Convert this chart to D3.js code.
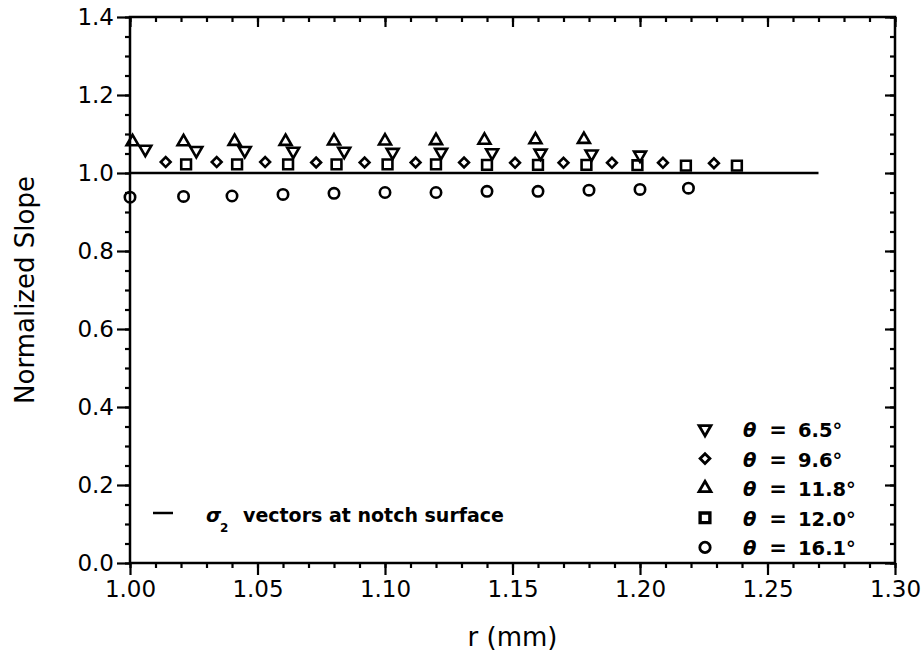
<!DOCTYPE html>
<html>
<head>
<meta charset="utf-8">
<script src="https://cdn.jsdelivr.net/npm/d3@7"></script>
<style>
  body { margin: 0; background: #fff; }
  .tick text { font-family: "DejaVu Sans", sans-serif; }
</style>
</head>
<body>
<div id="chart"></div>
<script>
// values
var r65 = [1.006, 1.026, 1.045, 1.064, 1.084, 1.103, 1.122, 1.142, 1.161, 1.181, 1.200];
var s65 = [1.061, 1.058, 1.058, 1.056, 1.056, 1.053, 1.053, 1.052, 1.051, 1.049, 1.046];

var r96 = [1.014, 1.034, 1.053, 1.073, 1.092, 1.112, 1.131, 1.151, 1.170, 1.189, 1.209, 1.229];
var s96 = [1.028, 1.028, 1.028, 1.027, 1.027, 1.027, 1.027, 1.026, 1.026, 1.026, 1.026, 1.025];

var r118 = [1.001, 1.021, 1.041, 1.061, 1.080, 1.100, 1.120, 1.139, 1.159, 1.178];
var s118 = [1.080, 1.080, 1.081, 1.081, 1.082, 1.082, 1.083, 1.084, 1.085, 1.086];

var r120 = [1.022, 1.042, 1.062, 1.081, 1.101, 1.120, 1.140, 1.160, 1.179, 1.199, 1.218, 1.238];
var s120 = [1.022, 1.022, 1.022, 1.022, 1.022, 1.022, 1.021, 1.021, 1.021, 1.020, 1.019, 1.019];

var r161 = [1.000, 1.021, 1.040, 1.060, 1.080, 1.100, 1.120, 1.140, 1.160, 1.180, 1.200, 1.219];
var s161 = [0.938, 0.940, 0.941, 0.945, 0.948, 0.950, 0.950, 0.953, 0.953, 0.956, 0.958, 0.961];

// sigma_2 reference line
var refR = [1.00, 1.27];
var refS = [1.0, 1.0];

var xTicks = [1.00, 1.05, 1.10, 1.15, 1.20, 1.25, 1.30];
var yTicks = [0.0, 0.2, 0.4, 0.6, 0.8, 1.0, 1.2, 1.4];
var thetaLabels = ["6.5°", "9.6°", "11.8°", "12.0°", "16.1°"];

// size and padding
var width = 923;
var height = 660;
var plotL = 130, plotR = 895, plotT = 17, plotB = 563;

var svg = d3.select("#chart")
  .append("svg")
  .attr("width", width)
  .attr("height", height);

var xScale = d3.scaleLinear().domain([1.0, 1.3]).range([plotL, plotR]);
var yScale = d3.scaleLinear().domain([0, 1.4]).range([plotB, plotT]);

var minorX = xScale.ticks(30);
var minorY = yScale.ticks(28);

function styleAxis(g) {
  g.select(".domain").remove();
  g.selectAll(".tick line").attr("stroke", "#000").attr("stroke-width", 2.2);
  g.selectAll(".tick text").attr("fill", "#000").attr("font-size", 23);
}

// bottom axis: outward ticks
svg.append("g")
  .attr("transform", "translate(0," + plotB + ")")
  .call(d3.axisBottom(xScale).tickValues(minorX).tickSize(5).tickFormat(""))
  .call(styleAxis);
svg.append("g")
  .attr("transform", "translate(0," + plotB + ")")
  .call(d3.axisBottom(xScale).tickValues(xTicks).tickSize(12).tickPadding(6).tickFormat(d3.format(".2f")))
  .call(styleAxis);

// left axis: outward ticks
svg.append("g")
  .attr("transform", "translate(" + plotL + ",0)")
  .call(d3.axisLeft(yScale).tickValues(minorY).tickSize(5).tickFormat(""))
  .call(styleAxis);
svg.append("g")
  .attr("transform", "translate(" + plotL + ",0)")
  .call(d3.axisLeft(yScale).tickValues(yTicks).tickSize(13).tickPadding(3).tickFormat(d3.format(".1f")))
  .call(styleAxis);

// top and right axes: inward ticks, no labels
svg.append("g")
  .attr("transform", "translate(0," + plotT + ")")
  .call(d3.axisBottom(xScale).tickValues(minorX).tickSize(5).tickFormat(""))
  .call(styleAxis);
svg.append("g")
  .attr("transform", "translate(0," + plotT + ")")
  .call(d3.axisBottom(xScale).tickValues(xTicks).tickSize(10).tickFormat(""))
  .call(styleAxis);
svg.append("g")
  .attr("transform", "translate(" + plotR + ",0)")
  .call(d3.axisLeft(yScale).tickValues(minorY).tickSize(5).tickFormat(""))
  .call(styleAxis);
svg.append("g")
  .attr("transform", "translate(" + plotR + ",0)")
  .call(d3.axisLeft(yScale).tickValues(yTicks).tickSize(10).tickFormat(""))
  .call(styleAxis);

// frame
svg.append("rect")
  .attr("x", plotL).attr("y", plotT)
  .attr("width", plotR - plotL).attr("height", plotB - plotT)
  .attr("fill", "none").attr("stroke", "#000").attr("stroke-width", 2.5);

// axis titles
svg.append("text")
  .attr("x", xScale(1.15)).attr("y", 646)
  .attr("text-anchor", "middle")
  .attr("font-family", "DejaVu Sans").attr("font-size", 26)
  .text("r (mm)");
svg.append("text")
  .attr("transform", "translate(34," + yScale(0.7) + ")rotate(-90)")
  .attr("text-anchor", "middle")
  .attr("font-family", "DejaVu Sans").attr("font-size", 26)
  .text("Normalized Slope");

// reference line
var line = d3.line().x(function(d, i) { return xScale(refR[i]); }).y(function(d) { return yScale(d); });
svg.append("path")
  .attr("d", line(refS))
  .attr("fill", "none").attr("stroke", "#000").attr("stroke-width", 2.5);

// series
var series = [
  { r: r65,  s: s65,  type: d3.symbolTriangle, size: 62, rot: 180 },
  { r: r96,  s: s96,  type: d3.symbolSquare,   size: 48, rot: 45 },
  { r: r118, s: s118, type: d3.symbolTriangle, size: 62, rot: 0 },
  { r: r120, s: s120, type: d3.symbolSquare,   size: 95, rot: 0 },
  { r: r161, s: s161, type: d3.symbolCircle,   size: 85, rot: 0 }
];

series.forEach(function(ser) {
  var sym = d3.symbol().type(ser.type).size(ser.size);
  svg.append("g").selectAll("path")
    .data(ser.s)
    .enter()
    .append("path")
    .attr("d", sym)
    .attr("transform", function(d, i) {
      return "translate(" + xScale(ser.r[i]) + "," + yScale(d) + ")rotate(" + ser.rot + ")";
    })
    .attr("fill", "none")
    .attr("stroke", "#000")
    .attr("stroke-width", 2.6);
});

// legend, bottom right
var legY0 = 437, legStep = 29.6;
series.forEach(function(ser, i) {
  var y = legY0 + i * legStep;
  svg.append("path")
    .attr("d", d3.symbol().type(ser.type).size(ser.size)())
    .attr("transform", "translate(705," + (y - 8) + ")rotate(" + ser.rot + ")")
    .attr("fill", "none").attr("stroke", "#000").attr("stroke-width", i == 3 ? 3.4 : 2.8);
  svg.append("text")
    .attr("x", 743).attr("y", y)
    .attr("font-family", "DejaVu Sans").attr("font-weight", "bold").attr("font-style", "italic")
    .attr("font-size", 19.5)
    .text("θ");
  svg.append("text")
    .attr("x", 778).attr("y", y)
    .attr("text-anchor", "middle")
    .attr("font-family", "DejaVu Sans").attr("font-weight", "bold")
    .attr("font-size", 21)
    .text("=");
  svg.append("text")
    .attr("x", 798).attr("y", y)
    .attr("font-family", "DejaVu Sans").attr("font-weight", "bold")
    .attr("font-size", 19.5)
    .text(thetaLabels[i]);
});

// sigma_2 legend, bottom left
svg.append("line")
  .attr("x1", 153).attr("x2", 173).attr("y1", 513).attr("y2", 513)
  .attr("stroke", "#000").attr("stroke-width", 2.5);
svg.append("text")
  .attr("x", 206).attr("y", 522)
  .attr("font-family", "DejaVu Sans").attr("font-weight", "bold").attr("font-style", "italic")
  .attr("font-size", 19.5)
  .text("σ");
svg.append("text")
  .attr("x", 220).attr("y", 532)
  .attr("font-family", "DejaVu Sans").attr("font-weight", "bold")
  .attr("font-size", 12)
  .text("2");
svg.append("text")
  .attr("x", 243).attr("y", 522)
  .attr("font-family", "DejaVu Sans").attr("font-weight", "bold")
  .attr("font-size", 19)
  .text("vectors at notch surface");
</script>
</body>
</html>
